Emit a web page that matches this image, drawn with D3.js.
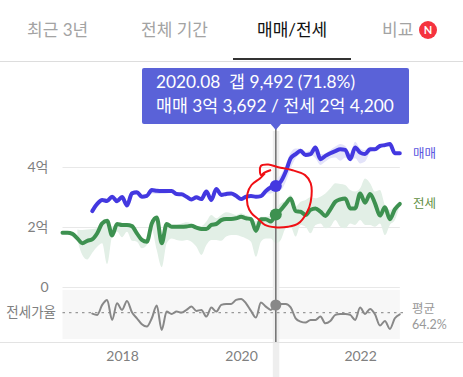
<!DOCTYPE html>
<html><head><meta charset="utf-8">
<script src="https://cdnjs.cloudflare.com/ajax/libs/d3/7.8.5/d3.min.js"></script>
<style>html,body{margin:0;padding:0;background:#fff;overflow:hidden}svg{display:block}text{font-family:Lato,"Noto Sans CJK KR",sans-serif}</style>
</head><body><svg id="c" width="463" height="377"></svg>
<script>
const tabs=["최근 3년","전체 기간","매매/전세","비교"];
const tooltipLines=["2020.08  갭 9,492 (71.8%)","매매 3억 3,692 / 전세 2억 4,200"];
const priceTicks=[0,2,4];
const yearTicks=[2018,2020,2022];
const avgRatio=64.2;
const selectedMonth=31;
// months counted from 2018.01 = 0
const saleStart=-6, leaseStart=-12, leaseBandStart=-9, ratioStart=-6;
const sale=[2.53,2.77,2.90,2.87,3.01,2.86,3.00,2.72,3.12,3.16,3.01,3.04,3.23,3.21,3.20,3.20,3.20,3.10,3.09,3.01,2.92,2.99,2.93,3.18,2.90,3.27,3.07,3.10,3.12,
3.04,2.93,3.01,3.03,3.01,3.03,3.20,3.32,3.3692,3.51,3.84,4.29,4.43,4.54,4.40,4.43,4.65,4.26,4.37,4.46,4.53,4.59,4.57,4.26,4.65,4.48,4.43,4.59,4.59,4.70,4.73,4.77,4.46,4.46];
const saleHi=[2.53,2.77,2.92,2.89,3.03,2.88,3.02,2.74,3.14,3.18,3.03,3.06,3.25,3.23,3.22,3.22,3.22,3.12,3.11,3.05,2.95,3.03,2.97,3.22,2.95,3.30,3.10,3.12,3.14,
3.06,2.95,3.03,3.05,3.03,3.07,3.23,3.43,3.57,3.73,4.07,4.48,4.62,4.62,4.51,4.57,4.73,4.43,4.46,4.57,4.68,4.77,4.70,4.46,4.84,4.62,4.57,4.68,4.65,4.72,4.75,4.79,4.48,4.46];
const saleLo=[2.53,2.77,2.88,2.85,2.98,2.84,2.97,2.68,3.08,3.14,2.99,3.02,3.12,3.10,3.11,3.12,3.14,3.07,3.06,2.97,2.89,2.92,2.88,3.10,2.82,3.18,3.03,3.07,3.09,
3.00,2.90,2.96,3.00,2.97,2.97,3.12,3.12,3.18,3.23,3.51,3.95,4.29,4.43,4.37,4.40,4.29,4.07,4.18,4.29,4.32,4.21,4.32,4.21,4.29,4.12,4.18,4.48,4.57,4.68,4.71,4.75,4.44,4.46];
const lease=[1.81,1.81,1.77,1.62,1.46,1.54,1.59,1.79,2.12,2.21,1.72,2.10,2.07,2.07,2.03,1.79,1.57,1.51,2.12,2.32,1.46,2.10,2.01,2.01,2.01,2.02,2.04,1.98,1.93,1.93,2.07,2.10,2.23,2.27,2.27,
2.29,2.34,2.29,2.26,1.87,2.26,2.26,2.18,2.42,2.57,2.77,2.95,2.53,2.51,2.40,2.57,2.62,2.51,2.37,2.59,2.84,2.92,2.95,2.62,2.62,3.12,2.81,3.10,2.79,2.38,2.66,2.26,2.59,2.77];
const leaseHi=[1.92,1.90,1.92,1.93,1.96,2.12,2.18,2.01,2.12,2.12,2.10,2.07,1.84,1.62,1.59,2.23,2.29,1.46,2.12,2.03,2.07,2.12,2.16,2.12,2.03,2.03,2.18,2.40,2.29,2.40,2.49,2.46,
2.40,2.46,2.40,2.34,2.18,2.34,2.34,2.40,2.62,2.79,2.90,3.07,2.68,2.84,2.90,2.99,2.96,3.01,3.12,3.29,3.46,3.43,3.40,3.23,3.18,3.29,3.62,3.46,3.18,3.23,2.73,2.57,2.68,2.84];
const leaseLo=[1.57,1.07,.92,1.14,1.34,1.46,.77,1.68,1.84,1.66,1.84,1.54,1.51,1.29,1.40,1.90,1.23,.66,1.46,1.62,1.57,1.54,1.57,1.51,1.34,1.07,1.40,1.57,1.57,1.54,1.68,1.73,
1.73,1.68,1.62,1.51,1.01,1.51,1.62,1.62,1.46,1.57,1.96,2.01,1.68,2.07,2.01,1.79,2.07,2.12,1.96,2.01,2.23,2.01,1.96,2.12,2.07,2.23,2.07,2.07,2.01,2.12,1.73,2.07,2.23,2.73];
const ratio=[63.2,61.9,71.9,76.9,56.9,73.5,66.9,75.9,64.5,58.5,52.5,50.2,58.5,71.2,46.9,65.2,62.9,65.2,64.2,66.9,70.2,65.9,66.9,60.2,69.2,65.2,71.9,72.9,72.9,
76.9,77.9,73.5,65.9,59.2,74.2,70.2,66.9,71.8,72.9,72.9,69.5,58.5,55.2,54.2,56.9,56.9,60.2,53.5,55.9,61.9,62.9,62.9,61.9,56.9,69.2,62.9,67.9,62.5,51.2,55.9,47.9,58.5,62.5];
// hand-drawn red circle, in [month, price] coordinates
const redMark=[[30.04,3.90],[28.7,3.81],[28.0,3.73],[27.96,4.03],[29.5,4.08],[31.5,3.99],[34.2,3.90],[36.9,3.73],[38.04,3.46],[38.04,2.84],[37.2,2.46],[35.55,2.12],[33.5,2.01],[30.85,1.99],[28.8,2.07],[27.5,2.26],[26.1,2.46],[25.3,2.73],[25.3,3.12],[26.1,3.40],[27.8,3.62],[28.8,3.79]];

const svg=d3.select("#c");
const x=d3.scaleLinear().domain([-12,56]).range([62.5,399.8]);
const y=d3.scaleLinear().domain([0,4]).range([287,167]);
const yR=d3.scaleLinear().domain([40,90]).range([336.8,286.8]);
const monthOfYear=yr=>(yr-2018)*12;

// tabs
const tabX=[27,141,257,382];
svg.selectAll("text.tab").data(tabs).join("text").attr("class","tab")
 .attr("x",(d,i)=>tabX[i]).attr("y",36).attr("font-size",17)
 .attr("fill",(d,i)=>i===2?"#111":"#a3a3a3").text(d=>d);
svg.append("circle").attr("cx",428).attr("cy",30).attr("r",9).attr("fill","#f5333f");
svg.append("text").attr("x",428).attr("y",34).attr("text-anchor","middle").attr("font-size",11).attr("font-weight",700).attr("fill","#fff").text("N");
svg.append("line").attr("x1",0).attr("x2",463).attr("y1",61.5).attr("y2",61.5).attr("stroke","#ddd");
svg.append("rect").attr("x",233).attr("y",58).attr("width",118).attr("height",2).attr("fill","#333");

// ratio panel background
svg.append("rect").attr("x",x(-12)).attr("y",290).attr("width",x(56)-x(-12)).attr("height",49).attr("fill","#f7f7f7");

// grid + y labels
const yAxis=d3.axisLeft(y).tickValues(priceTicks).tickSize(-(x(56)-x(-12))).tickPadding(14).tickFormat(d=>d===0?"0":d+"억");
const gy=svg.append("g").attr("transform",`translate(${x(-12)},0)`).call(yAxis);
gy.select(".domain").remove();
gy.selectAll("line").attr("stroke","#e8e8e8");
gy.selectAll("text").attr("fill","#808080").attr("font-size",14).style("font-family",'Lato,"Noto Sans CJK KR",sans-serif');

// selected-month shade
svg.append("rect").attr("x",x(selectedMonth)-3).attr("y",131).attr("width",6.5).attr("height",246).attr("fill","#eeeeee");
// bottom rule
svg.append("line").attr("x1",0).attr("x2",463).attr("y1",342.5).attr("y2",342.5).attr("stroke","#e3e3e3");

// bands
function band(hi,lo,start,fill){
 const rows=hi.map((h,i)=>({m:start+i,h,l:lo[i]}));
 svg.append("path").datum(rows).attr("fill",fill)
  .attr("d",d3.area().x(d=>x(d.m)).y0(d=>y(d.l)).y1(d=>y(d.h)).curve(d3.curveMonotoneX));
}
band(leaseHi,leaseLo,leaseBandStart,"#e2efe6");
band(saleHi,saleLo,saleStart,"#e3e3f9");

// lines
function drawLine(vals,start,yS,color,w){
 svg.append("path").datum(vals.map((v,i)=>({m:start+i,v}))).attr("fill","none")
  .attr("stroke",color).attr("stroke-width",w).attr("stroke-linejoin","round").attr("stroke-linecap","round")
  .attr("d",d3.line().x(d=>x(d.m)).y(d=>yS(d.v)).curve(d3.curveMonotoneX));
}
drawLine(lease,leaseStart,y,"#3d9150",4);
drawLine(sale,saleStart,y,"#4338e0",4);

// ratio
svg.append("line").attr("x1",x(-12)).attr("x2",405).attr("y1",yR(avgRatio)).attr("y2",yR(avgRatio))
 .attr("stroke","#999").attr("stroke-width",1.2).attr("stroke-dasharray","2.5 4");
drawLine(ratio,ratioStart,yR,"#888",2);

// crosshair + dots
svg.append("line").attr("x1",x(selectedMonth)).attr("x2",x(selectedMonth)).attr("y1",124).attr("y2",342)
 .attr("stroke","#777").attr("stroke-width",1.6);
svg.append("circle").attr("cx",x(selectedMonth)).attr("cy",y(sale[selectedMonth-saleStart])).attr("r",6).attr("fill","#4338e0");
svg.append("circle").attr("cx",x(selectedMonth)).attr("cy",y(lease[selectedMonth-leaseStart])).attr("r",6).attr("fill","#3d9150");
svg.append("circle").attr("cx",x(selectedMonth)).attr("cy",yR(ratio[selectedMonth-ratioStart])).attr("r",5.5).attr("fill","#888");

// red annotation
svg.append("path").datum(redMark).attr("fill","none").attr("stroke","#f00f14").attr("stroke-width",2).attr("stroke-linejoin","round")
 .attr("d",d3.line().x(d=>x(d[0])).y(d=>y(d[1])).curve(d3.curveCatmullRom));

// x axis labels
const xAxis=d3.axisBottom(x).tickValues(yearTicks.map(monthOfYear)).tickSize(0).tickPadding(0).tickFormat(d=>String(2018+d/12));
const gx=svg.append("g").attr("transform","translate(0,351)").call(xAxis);
gx.select(".domain").remove();
gx.selectAll("text").attr("fill","#808080").attr("font-size",14).style("font-family",'Lato,"Noto Sans CJK KR",sans-serif');

// side labels
svg.append("text").attr("x",56).attr("y",317).attr("text-anchor","end").attr("font-size",13.5).attr("fill","#808080").text("전세가율");
svg.append("text").attr("x",413).attr("y",158).attr("font-size",12.5).attr("fill","#5a55e0").text("매매");
svg.append("text").attr("x",413).attr("y",208).attr("font-size",12.5).attr("fill","#5f8f3f").text("전세");
svg.append("text").attr("x",412).attr("y",313).attr("font-size",12.5).attr("fill","#999").text("평균");
svg.append("text").attr("x",412).attr("y",329).attr("font-size",12.5).attr("fill","#999").text(avgRatio+"%");

// tooltip
svg.append("path").attr("fill","#5a62d8").attr("d",d3.line()([[x(selectedMonth)-6,123],[x(selectedMonth)+6,123],[x(selectedMonth),130]]));
svg.append("rect").attr("x",142).attr("y",68).attr("width",267).attr("height",56).attr("rx",2).attr("fill","#5a62d8");
svg.selectAll("text.tip").data(tooltipLines).join("text").attr("class","tip")
 .attr("x",156).attr("y",(d,i)=>88+i*24).attr("font-size",17.3).attr("fill","#fff").style("white-space","pre").text(d=>d);
</script></body></html>
